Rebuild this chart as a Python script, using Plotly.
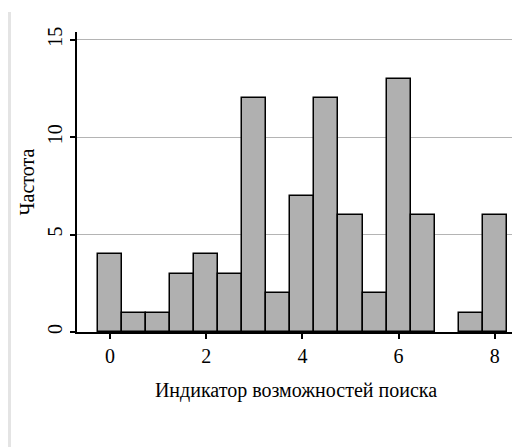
import plotly.graph_objects as go

# Data
bin_centers = [0, 0.5, 1, 1.5, 2, 2.5, 3, 3.5, 4, 4.5, 5, 5.5, 6, 6.5, 7, 7.5, 8]
frequencies = [4, 1, 1, 3, 4, 3, 12, 2, 7, 12, 6, 2, 13, 6, 0, 1, 6]
x_ticks = [0, 2, 4, 6, 8]
y_ticks = [0, 5, 10, 15]
x_title = "Индикатор возможностей поиска"
y_title = "Частота"

FONT = "Liberation Serif"

fig = go.Figure()
fig.add_trace(go.Bar(
    x=bin_centers,
    y=frequencies,
    width=0.5,
    marker=dict(color="#b0b0b0",
                line=dict(color="black", width=[1.5 if v > 0 else 0 for v in frequencies])),
    showlegend=False,
))

# page has 8px body margin -> figure is placed at (8, 8)
W, H = 512, 439
L, R, T, B = 69, 5, 24, 115
pw, ph = W - L - R, H - T - B

def px2paper_x(px):
    return (px - L) / pw

def py2paper_y(py):
    return (H - B - py) / ph

# left page-edge shadow (decorative)
shapes = [dict(type="rect", xref="paper", yref="paper",
               x0=px2paper_x(0), x1=px2paper_x(3),
               y0=py2paper_y(H), y1=py2paper_y(4),
               fillcolor="#e4e4e4", line=dict(width=0), layer="below")]

fig.update_layout(
    width=W, height=H,
    margin=dict(l=L, r=R, t=T, b=B, autoexpand=False),
    paper_bgcolor="white",
    plot_bgcolor="white",
    font=dict(family=FONT, size=16, color="black"),
    bargap=0,
    shapes=shapes,
    xaxis=dict(
        range=[-0.686, 8.42],
        tickvals=x_ticks,
        ticks="outside", ticklen=5, tickwidth=1.5, tickcolor="black",
        showline=True, linecolor="black", linewidth=1.5,
        showgrid=False, zeroline=False, automargin=False,
        tickfont=dict(family=FONT, size=20),
        title=dict(text=x_title, font=dict(family=FONT, size=20), standoff=17),
    ),
    yaxis=dict(
        range=[0, 15.4],
        tickvals=y_ticks,
        tickangle=-90,
        ticks="outside", ticklen=5, tickwidth=1.5, tickcolor="black",
        showline=True, linecolor="black", linewidth=1.5,
        showgrid=True, gridcolor="#b4b4b4", gridwidth=1,
        zeroline=False, automargin=False,
        tickfont=dict(family=FONT, size=20),
        title=dict(text=y_title, font=dict(family=FONT, size=20), standoff=4),
    ),
)

fig.write_html("out.html")
